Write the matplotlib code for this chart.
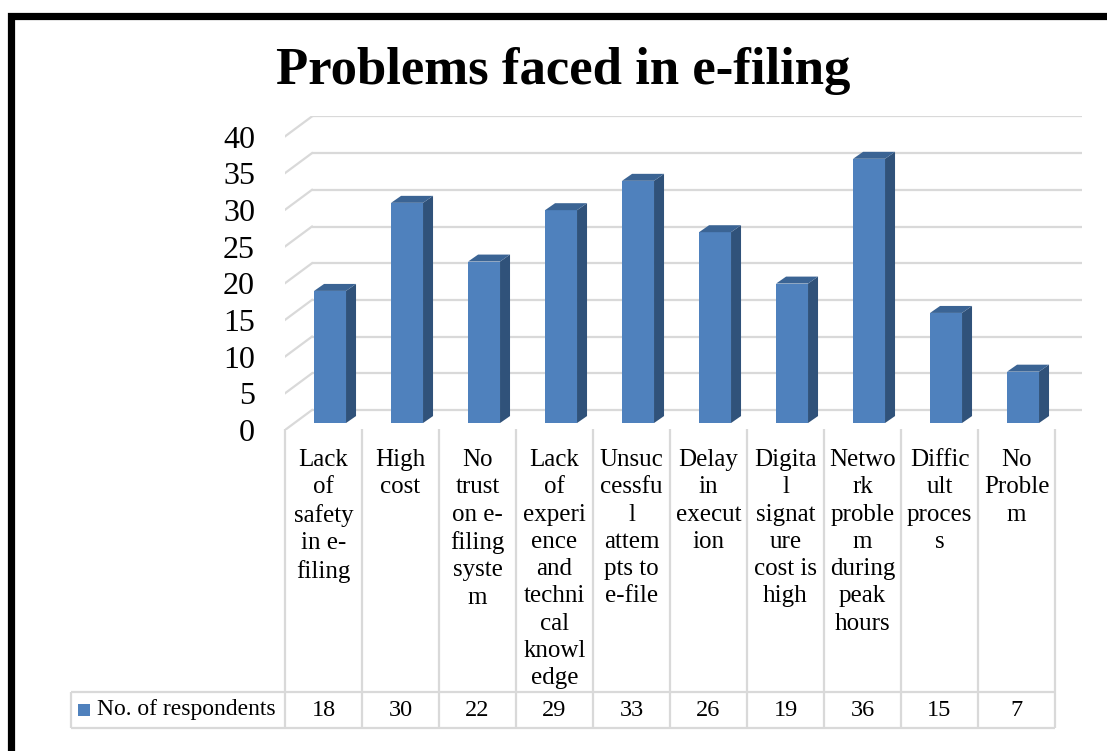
import matplotlib
matplotlib.use("Agg")
import matplotlib.pyplot as plt
import matplotlib.patches as mpatches
import matplotlib.transforms as mtransforms

# Survey results: problems faced in e-filing
categories = [
    "Lack\nof\nsafety\nin e-\nfiling",
    "High\ncost",
    "No\ntrust\non e-\nfiling\nsyste\nm",
    "Lack\nof\nexperi\nence\nand\ntechni\ncal\nknowl\nedge",
    "Unsuc\ncessfu\nl\nattem\npts to\ne-file",
    "Delay\nin\nexecut\nion",
    "Digita\nl\nsignat\nure\ncost is\nhigh",
    "Netwo\nrk\nproble\nm\nduring\npeak\nhours",
    "Diffic\nult\nproces\ns",
    "No\nProble\nm",
]
respondents = [18, 30, 22, 29, 33, 26, 19, 36, 15, 7]
series_name = "No. of respondents"
y_ticks = [0, 5, 10, 15, 20, 25, 30, 35, 40]

W, H = 1107, 751
fig = plt.figure(figsize=(W / 100, H / 100), dpi=100)
fig.patch.set_facecolor("white")
plt.rcParams["font.family"] = ["Liberation Serif", "DejaVu Serif"]

def fx(px):
    return px / W

def fy(py):
    return 1 - py / H

# pixel geometry of the plot area
x0, unit_x = 285.0, 77.0        # front axis left, width of one category
y0, unit_y = 430.0, 7.34        # front floor, pixels per respondent
DX, DY = 0.35, 2.72             # depth of the back wall (data units)
x_max = len(categories) + DX
y_max = 40 + DY

ax = fig.add_axes([fx(x0), fy(y0), x_max * unit_x / W, y_max * unit_y / H])
ax.set_xlim(0, x_max)
ax.set_ylim(0, y_max)
ax.axis("off")

grid_c = "#d9d9d9"
for v in y_ticks:
    # back wall and side wall gridlines
    ax.plot([DX, len(categories) + DX], [v + DY, v + DY], color=grid_c, lw=1.6,
            solid_capstyle="butt", zorder=1)
    ax.plot([0, DX], [v, v + DY], color=grid_c, lw=1.6, zorder=1)
    ax.text(-30 / unit_x, v - 0.5, str(v), ha="right", va="center",
            fontsize=23, color="black")

# 3D-style columns
front_c, side_c, top_c = "#4f81bd", "#30527a", "#3b6494"
bar_w = 0.415
shift = 0.085
z_off = 0.95                    # front face sits a little behind the floor edge
ddx, ddy = 0.13, 0.95           # bar depth
xs = [i + 0.5 + shift for i in range(len(categories))]
ax.bar(xs, respondents, width=bar_w, bottom=z_off, color=front_c, zorder=3,
       linewidth=0)
for x, v in zip(xs, respondents):
    r = x + bar_w / 2
    l = x - bar_w / 2
    side = mpatches.Polygon([(r, z_off), (r + ddx, z_off + ddy),
                             (r + ddx, z_off + ddy + v), (r, z_off + v)],
                            closed=True, facecolor=side_c, edgecolor="none",
                            zorder=3)
    top = mpatches.Polygon([(l, z_off + v), (r, z_off + v),
                            (r + ddx, z_off + v + ddy), (l + ddx, z_off + v + ddy)],
                           closed=True, facecolor=top_c, edgecolor="none",
                           zorder=3)
    ax.add_patch(side)
    ax.add_patch(top)

# data table below the chart
tr = mtransforms.blended_transform_factory(ax.transData, fig.transFigure)
t_top, t_mid, t_bot = 429, 691.5, 727.5
leg_left = 71
n = len(categories)
tbl_kw = dict(color=grid_c, lw=1.6, clip_on=False, solid_capstyle="butt")
for i in range(n + 1):
    ax.plot([i, i], [fy(t_top), fy(t_bot)], transform=tr, **tbl_kw)
ax.plot([-(x0 - leg_left) / unit_x, n], [fy(t_mid), fy(t_mid)], transform=tr, **tbl_kw)
ax.plot([-(x0 - leg_left) / unit_x, n], [fy(t_bot), fy(t_bot)], transform=tr, **tbl_kw)
ax.plot([-(x0 - leg_left) / unit_x] * 2, [fy(t_mid), fy(t_bot)], transform=tr, **tbl_kw)

for i, (lab, v) in enumerate(zip(categories, respondents)):
    ax.text(i + 0.5, fy(449), lab, transform=tr, ha="center", va="top",
            fontsize=18, linespacing=1.31, color="black")
    ax.text(i + 0.5, fy(710), str(v), transform=tr, ha="center", va="center",
            fontsize=17.5, color="black")

# legend key in the table
fig.patches.append(mpatches.Rectangle((fx(78), fy(716)), 12 / W, 12 / H,
                                      transform=fig.transFigure,
                                      facecolor=front_c, edgecolor="none"))
fig.text(fx(97), fy(709), series_name, ha="left", va="center", fontsize=17,
         color="black")

fig.text(fx(563), fy(71), "Problems faced in e-filing", ha="center", va="center",
         fontsize=38, fontweight="bold", color="black")

# thick black border around the chart area
fig.patches.append(mpatches.Rectangle((fx(10.5), fy(780)), 1.1, fy(15.5) - fy(780),
                                      transform=fig.transFigure, fill=False,
                                      edgecolor="black", linewidth=5.2))

fig.savefig("out.png", dpi=100)
